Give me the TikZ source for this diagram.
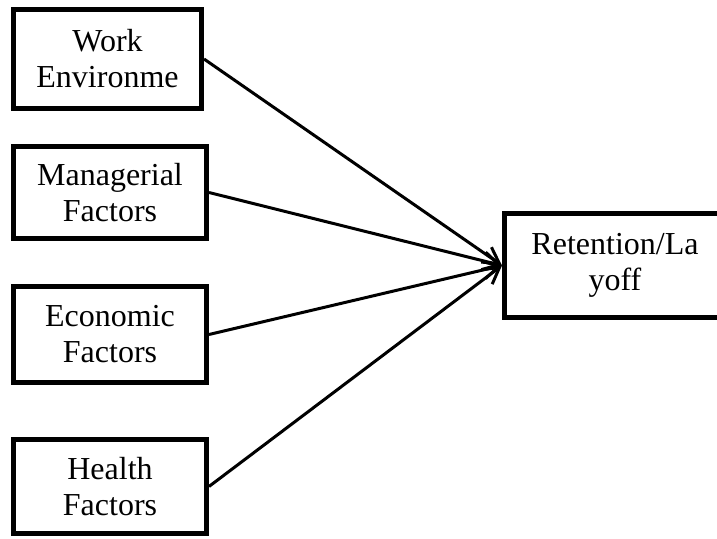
\documentclass[tikz,border=0pt]{standalone}
\usepackage{fontspec}
\setmainfont{Liberation Serif}
\usetikzlibrary{arrows.meta}

\begin{document}
\begin{tikzpicture}[x=0.5pt,y=-0.5pt,line width=1.5pt,>={Straight Barb[length=8pt,width=9pt]},
  box/.style={draw,line width=2.5pt,align=center,inner sep=0pt,font=\fontsize{16}{18}\selectfont}]
\useasboundingbox (0,0) rectangle (717,539);
\draw node [box,minimum width=94pt,minimum height=49.5pt]   (W) at (107.5,59)  {Work\\Environme};
\draw node [box,minimum width=96.5pt,minimum height=46pt]   (M) at (110,192.5) {Managerial\\Factors};
\draw node [box,minimum width=96.5pt,minimum height=48pt]   (E) at (110,334.5) {Economic\\Factors};
\draw node [box,minimum width=96.5pt,minimum height=47pt]   (H) at (110,486.5) {Health\\Factors};
\draw node [box,minimum width=110.5pt,minimum height=52pt]  (R) at (615,265.5) {Retention/La\\yoff};
\draw [->] (W.east) -- (R.west);
\draw [->] (M.east) -- (R.west);
\draw [->] (E.east) -- (R.west);
\draw [->] (H.east) -- (R.west);
\end{tikzpicture}
\end{document}
